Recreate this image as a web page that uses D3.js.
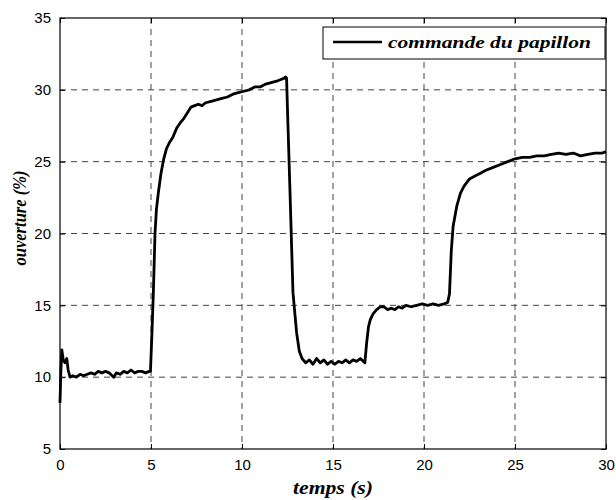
<!DOCTYPE html>
<html>
<head>
<meta charset="utf-8">
<script src="https://cdn.jsdelivr.net/npm/d3@7"></script>
<style>
  body { margin: 0; background: #fff; }
  svg { display: block; }
</style>
</head>
<body>
<div id="chart"></div>
<script>
// temps (s) et ouverture (%)
const temps = [
  0, 0.05, 0.1, 0.18, 0.27, 0.37, 0.45, 0.55, 0.7, 0.9, 1.1, 1.3, 1.5, 1.7, 1.9,
  2.1, 2.3, 2.5, 2.7, 2.95, 3.1, 3.3, 3.5, 3.7, 3.9, 4.1, 4.3, 4.5, 4.7, 4.9, 4.97,
  5.05, 5.13, 5.22, 5.3, 5.4, 5.55, 5.7, 5.85, 6.0, 6.2, 6.4, 6.6, 6.8, 7.0,
  7.2, 7.4, 7.6, 7.8, 8.0, 8.3, 8.6, 8.9, 9.2, 9.5, 9.8, 10.1, 10.4, 10.7,
  11.0, 11.3, 11.6, 11.9, 12.1, 12.3, 12.4,
  12.45, 12.5, 12.64, 12.8, 13.0, 13.15, 13.3,
  13.5, 13.7, 13.9, 14.1, 14.3, 14.5, 14.7, 14.9, 15.1, 15.3, 15.5, 15.7,
  15.9, 16.1, 16.3, 16.5, 16.75,
  16.85, 16.95, 17.05, 17.2, 17.4, 17.6,
  17.8, 18.0, 18.2, 18.4, 18.6, 18.8, 19.0, 19.3, 19.6, 19.9, 20.2, 20.5,
  20.8, 21.1, 21.3,
  21.4, 21.5, 21.6, 21.8, 22.0, 22.2, 22.5, 22.8, 23.1, 23.4, 23.8, 24.2,
  24.6, 25.0, 25.4, 25.8, 26.2, 26.6, 27.0, 27.4, 27.8, 28.2, 28.6, 29.0,
  29.4, 29.8, 30.0
];
const ouverture = [
  8.2, 10.5, 11.9, 11.2, 11.0, 11.3, 10.5, 10.0, 10.1, 10.0, 10.2, 10.1, 10.2, 10.3, 10.2,
  10.4, 10.3, 10.4, 10.3, 10.0, 10.3, 10.2, 10.4, 10.3, 10.5, 10.3, 10.4, 10.4, 10.3, 10.4, 10.4,
  13.0, 15.9, 20.0, 21.7, 22.8, 24.2, 25.2, 25.9, 26.3, 26.7, 27.3, 27.7, 28.0, 28.4,
  28.8, 28.9, 29.0, 28.9, 29.1, 29.2, 29.3, 29.4, 29.5, 29.7, 29.8, 29.9, 30.0, 30.2,
  30.2, 30.4, 30.5, 30.6, 30.7, 30.8, 30.9,
  30.8, 28.6, 22.8, 15.9, 13.1, 11.8, 11.3,
  11.0, 11.2, 10.9, 11.3, 11.0, 11.2, 10.9, 11.1, 10.9, 11.1, 11.0, 11.2,
  11.0, 11.2, 11.1, 11.3, 11.0,
  12.4, 13.5, 14.0, 14.4, 14.7, 14.9,
  14.9, 14.7, 14.8, 14.7, 14.9, 14.8, 15.0, 14.9, 15.0, 15.1, 15.0, 15.1,
  15.0, 15.1, 15.2,
  15.8, 18.8, 20.5, 21.9, 22.8, 23.3, 23.8, 24.0, 24.2, 24.4, 24.6, 24.8,
  25.0, 25.2, 25.3, 25.3, 25.4, 25.4, 25.5, 25.6, 25.5, 25.6, 25.4, 25.5,
  25.6, 25.6, 25.7
];
const xTicks = [0, 5, 10, 15, 20, 25, 30];
const yTicks = [5, 10, 15, 20, 25, 30, 35];
const legendLabel = 'commande du papillon';

const width = 616, height = 500;
const margin = { top: 18, right: 10, bottom: 51, left: 60 };
const innerW = width - margin.left - margin.right,
      innerH = height - margin.top - margin.bottom;

const svg = d3.select('#chart').append('svg')
    .attr('width', width)
    .attr('height', height);

const x = d3.scaleLinear().domain([0, 30]).range([0, innerW]);
const y = d3.scaleLinear().domain([5, 35]).range([innerH, 0]);

const g = svg.append('g')
    .attr('transform', `translate(${margin.left},${margin.top})`);

// grille pointillée
g.append('g').selectAll('line')
    .data(xTicks.slice(1, -1))
    .join('line')
    .attr('x1', d => x(d)).attr('x2', d => x(d))
    .attr('y1', 0).attr('y2', innerH)
    .attr('stroke', '#444').attr('stroke-dasharray', '6,5');
g.append('g').selectAll('line')
    .data(yTicks.slice(1, -1))
    .join('line')
    .attr('x1', 0).attr('x2', innerW)
    .attr('y1', d => y(d)).attr('y2', d => y(d))
    .attr('stroke', '#444').attr('stroke-dasharray', '6,5');

// axes avec graduations vers l'intérieur
const styleAxis = sel => {
    sel.select('.domain').remove();
    sel.selectAll('line').attr('stroke', '#000');
    sel.selectAll('text')
        .attr('font-family', 'Liberation Sans, Arial, sans-serif')
        .attr('font-size', 15).attr('fill', '#000');
};
g.append('g')
    .attr('transform', `translate(0,${innerH})`)
    .call(d3.axisBottom(x).tickValues(xTicks).tickSize(-5).tickPadding(10).tickFormat(d3.format('d')))
    .call(styleAxis);
g.append('g')
    .call(d3.axisTop(x).tickValues(xTicks).tickSize(-5).tickFormat(''))
    .call(styleAxis);
g.append('g')
    .call(d3.axisLeft(y).tickValues(yTicks).tickSize(-5).tickPadding(9).tickFormat(d3.format('d')))
    .call(styleAxis);
g.append('g')
    .attr('transform', `translate(${innerW},0)`)
    .call(d3.axisRight(y).tickValues(yTicks).tickSize(-5).tickFormat(''))
    .call(styleAxis);

g.append('rect')
    .attr('width', innerW).attr('height', innerH)
    .attr('fill', 'none').attr('stroke', '#000').attr('stroke-width', 1.2);

// courbe
const pts = temps.map((t, i) => [t, ouverture[i]]);
g.append('path')
    .datum(pts)
    .attr('fill', 'none')
    .attr('stroke', '#000')
    .attr('stroke-width', 2.8)
    .attr('stroke-linejoin', 'round')
    .attr('d', d3.line().x(d => x(d[0])).y(d => y(d[1])));

// légende
const leg = svg.append('g').attr('transform', 'translate(323,27)');
leg.append('rect')
    .attr('width', 282).attr('height', 32)
    .attr('fill', '#fff').attr('stroke', '#000').attr('stroke-width', 1);
leg.append('line')
    .attr('x1', 10).attr('x2', 59).attr('y1', 15).attr('y2', 15)
    .attr('stroke', '#000').attr('stroke-width', 2.6);
leg.append('text')
    .attr('x', 65).attr('y', 21)
    .attr('font-family', 'Liberation Serif, Times New Roman, serif')
    .attr('font-style', 'italic').attr('font-weight', 'bold')
    .attr('font-size', 17)
    .attr('textLength', 203)
    .attr('lengthAdjust', 'spacingAndGlyphs')
    .text(legendLabel);

// titres des axes
svg.append('text')
    .attr('x', margin.left + innerW / 2).attr('y', 494)
    .attr('text-anchor', 'middle')
    .attr('font-family', 'Liberation Serif, Times New Roman, serif')
    .attr('font-style', 'italic').attr('font-weight', 'bold')
    .attr('font-size', 18)
    .attr('textLength', 80)
    .attr('lengthAdjust', 'spacingAndGlyphs')
    .text('temps (s)');
svg.append('text')
    .attr('transform', 'translate(26,218) rotate(-90)')
    .attr('text-anchor', 'middle')
    .attr('font-family', 'Liberation Serif, Times New Roman, serif')
    .attr('font-style', 'italic').attr('font-weight', 'bold')
    .attr('font-size', 18)
    .attr('textLength', 95)
    .attr('lengthAdjust', 'spacingAndGlyphs')
    .text('ouverture (%)');
</script>
</body>
</html>
